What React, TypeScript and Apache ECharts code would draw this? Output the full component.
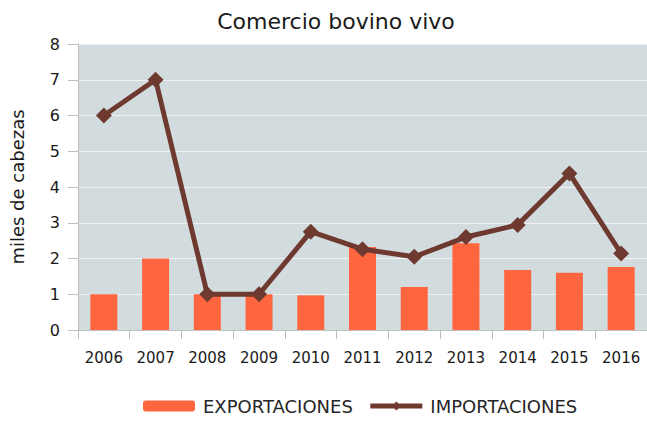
import React, { useEffect, useRef } from "react";
import * as echarts from "echarts";

const years = ["2006", "2007", "2008", "2009", "2010", "2011", "2012", "2013", "2014", "2015", "2016"];
const exportaciones = [1.0, 2.0, 1.0, 1.0, 0.97, 2.32, 1.2, 2.43, 1.68, 1.6, 1.76];
const importaciones = [6.0, 7.0, 1.0, 1.0, 2.75, 2.26, 2.05, 2.6, 2.94, 4.38, 2.14];

const FONT = "'DejaVu Sans', sans-serif";
const LINE_COLOR = "#6E3A30";

export default function App() {
  const ref = useRef<HTMLDivElement>(null);
  useEffect(() => {
    if (!ref.current) return;
    const chart = echarts.init(ref.current, null, { renderer: "svg" });
    chart.setOption({
      animation: false,
      backgroundColor: "#ffffff",
      title: {
        text: "Comercio bovino vivo",
        left: 331,
        textAlign: "center",
        top: 5,
        textStyle: { fontFamily: FONT, fontSize: 22, fontWeight: "normal", color: "#1a1a1a" },
      },
      grid: {
        left: 75,
        top: 44,
        width: 576,
        bottom: 91,
        show: true,
        backgroundColor: "#D2DCDE",
        borderWidth: 0,
      },
      legend: {
        bottom: 1,
        left: 138,
        itemWidth: 52,
        itemHeight: 11,
        itemGap: 15,
        textStyle: { fontFamily: FONT, fontSize: 18, color: "#262626", padding: [0, 0, 0, 3] },
        data: [
          { name: "EXPORTACIONES" },
          { name: "IMPORTACIONES", lineStyle: { width: 5, color: LINE_COLOR } },
        ],
      },
      xAxis: {
        type: "category",
        data: years,
        boundaryGap: true,
        axisLine: { lineStyle: { color: "#BFBFBF", width: 1 } },
        axisTick: { show: true, length: 9, alignWithLabel: false, lineStyle: { color: "#BFBFBF" } },
        axisLabel: { fontFamily: FONT, fontSize: 15, color: "#1a1a1a", margin: 20 },
      },
      yAxis: {
        type: "value",
        min: 0,
        max: 8,
        interval: 1,
        name: "miles de cabezas",
        nameLocation: "middle",
        nameGap: 52,
        nameTextStyle: { fontFamily: FONT, fontSize: 18, color: "#1a1a1a" },
        axisLine: { show: true, lineStyle: { color: "#BFBFBF", width: 1 } },
        axisTick: { show: true, length: 10, lineStyle: { color: "#BFBFBF" } },
        axisLabel: { fontFamily: FONT, fontSize: 16, color: "#1a1a1a", margin: 18 },
        splitLine: { show: true, lineStyle: { color: "#F2F2F2", width: 1 } },
      },
      series: [
        {
          name: "EXPORTACIONES",
          type: "bar",
          data: exportaciones,
          barWidth: 27,
          itemStyle: { color: "#FF6640" },
        },
        {
          name: "IMPORTACIONES",
          type: "line",
          data: importaciones,
          symbol: "diamond",
          symbolSize: 16,
          lineStyle: { color: LINE_COLOR, width: 5 },
          itemStyle: { color: LINE_COLOR },
        },
      ],
    });
    return () => chart.dispose();
  }, []);
  return <div ref={ref} style={{ width: 647, height: 421, position: "absolute", left: 0, top: 0 }} />;
}
